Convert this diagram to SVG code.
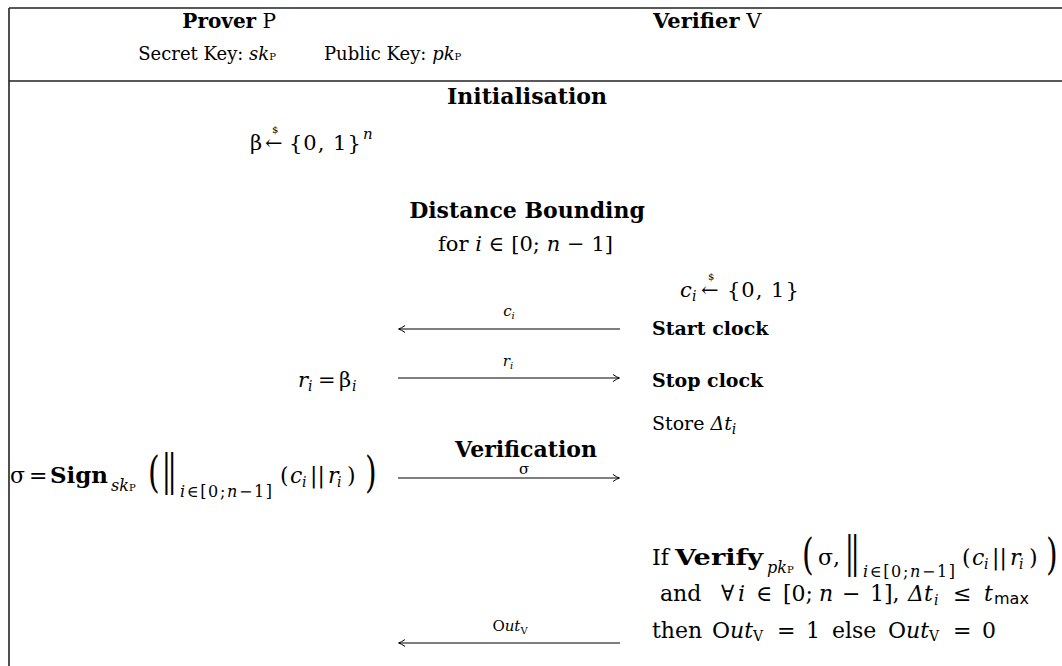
<svg xmlns="http://www.w3.org/2000/svg" width="1062" height="666" viewBox="0 0 1062 666">
<style>
text{font-family:"DejaVu Serif","Liberation Serif",serif;fill:#000;font-size:19px}
.b{font-weight:bold}
.it{font-style:italic}
.up{font-style:normal}
.m{font-size:21px}
.m2{font-size:22px}
.h{font-size:22px;font-weight:bold}
.sub{font-size:14px}
.s16{font-size:16px}
.ssub{font-size:10px}
.dollar{font-size:10px;font-style:normal}
.lab{font-size:15px}
.big{font-size:30px}
.bar{font-size:26px;letter-spacing:-3px}
.mid{text-anchor:middle}
.rule{stroke:#222;stroke-width:1.6;fill:none}
.arr{stroke:#000;stroke-width:1.1;fill:none}
.sans{font-family:"DejaVu Sans","Liberation Sans",sans-serif}
</style>
<defs>
<marker id="ah" viewBox="-8 -5 10 10" refX="0" refY="0" markerWidth="10" markerHeight="10" markerUnits="userSpaceOnUse" orient="auto">
<path d="M-6,-3.5 Q-2,-0.6 0.5,0 Q-2,0.6 -6,3.5" fill="none" stroke="#000" stroke-width="1"/>
</marker>
</defs>
<g id="frame">
<line class="rule" x1="9" y1="8" x2="1062" y2="8"/>
<line class="rule" x1="9" y1="81" x2="1062" y2="81"/>
<line class="rule" x1="9" y1="8" x2="9" y2="666"/>
</g>
<g id="prover-head">
<text x="276" y="28" text-anchor="end" style="font-size:20px"><tspan class="b">Prover</tspan> P</text>
<text x="276" y="60" text-anchor="end" style="font-size:18px">Secret Key: <tspan class="it">sk</tspan><tspan class="ssub">P</tspan></text>
</g>
<g id="verifier-head">
<text x="653" y="28" style="font-size:21px"><tspan class="b">Verifier</tspan> V</text>
<text x="324" y="60" style="font-size:18px">Public Key: <tspan class="it">pk</tspan><tspan class="ssub">P</tspan></text>
</g>
<g id="initialisation">
<text class="h mid" x="527" y="104">Initialisation</text>
</g>
<g id="beta-init">
<text class="m" y="150"><tspan x="250">β</tspan><tspan x="265">←</tspan><tspan class="dollar" x="272" dy="-17">$</tspan><tspan x="289" dy="17" style="letter-spacing:1px">{0, 1}</tspan><tspan class="it" x="363" dy="-11" style="font-size:15px">n</tspan></text>
</g>
<g id="distance-bounding">
<text class="h mid" x="527" y="218">Distance Bounding</text>
<text class="m" x="438" y="251" textLength="175" lengthAdjust="spacing">for <tspan class="it">i</tspan> ∈ [0; <tspan class="it">n</tspan> − 1]</text>
</g>
<g id="challenge">
<text class="m" y="297"><tspan class="it" x="680">c</tspan><tspan class="it sub" x="692" dy="4">i</tspan><tspan x="701" dy="-4">←</tspan><tspan class="dollar" x="708" dy="-17">$</tspan><tspan x="727" dy="17" style="letter-spacing:1px">{0, 1}</tspan></text>
</g>
<g id="start-clock"><text class="b" x="652" y="335">Start clock</text></g>
<g id="response">
<text class="m" y="387"><tspan class="it" x="298">r</tspan><tspan class="it sub" x="308" dy="4">i</tspan><tspan x="318" dy="-4">=</tspan><tspan x="339">β</tspan><tspan class="it sub" x="352" dy="4">i</tspan></text>
</g>
<g id="stop-clock"><text class="b" x="652" y="387">Stop clock</text></g>
<g id="store"><text x="652" y="430">Store <tspan class="it">Δt</tspan><tspan class="it sub" dy="4">i</tspan></text></g>
<g id="verification-head"><text class="h mid" x="526" y="457">Verification</text></g>
<g id="sign">
<text class="m2" x="10" y="483">σ</text>
<text class="m2" x="29" y="483">=</text>
<text class="b m2" x="50" y="483" textLength="58" lengthAdjust="spacingAndGlyphs">Sign</text>
<text x="111" y="491"><tspan class="it s16">sk</tspan><tspan class="ssub">P</tspan></text>
<text class="big" transform="translate(148,487) scale(1,1.4)">(</text>
<text class="bar" transform="translate(162,485) scale(1,1.65)">||</text>
<text class="it s16" x="180" y="497" textLength="92" lengthAdjust="spacing">i<tspan class="up">∈[0;</tspan>n<tspan class="up">−1]</tspan></text>
<text class="m2" y="483"><tspan x="280">(</tspan><tspan class="it" x="290">c</tspan><tspan class="sub it" x="302" dy="4">i</tspan><tspan x="310" dy="-4">||</tspan><tspan class="it" x="328">r</tspan><tspan class="sub it" x="337" dy="4">i</tspan><tspan x="347" dy="-4">)</tspan></text>
<text class="big" transform="translate(365,487) scale(1,1.4)">)</text>
</g>
<g id="verify">
<text class="m2" x="652" y="565">If</text>
<text class="b m2" x="675" y="565" textLength="88" lengthAdjust="spacingAndGlyphs">Verify</text>
<text x="767" y="573"><tspan class="it s16">pk</tspan><tspan class="ssub">P</tspan></text>
<text class="big" transform="translate(802,569) scale(1,1.4)">(</text>
<text class="m2" x="818" y="565">σ,</text>
<text class="bar" transform="translate(845,567) scale(1,1.65)">||</text>
<text class="it s16" x="863" y="577" textLength="92" lengthAdjust="spacing">i<tspan class="up">∈[0;</tspan>n<tspan class="up">−1]</tspan></text>
<text class="m2" y="565"><tspan x="962">(</tspan><tspan class="it" x="972">c</tspan><tspan class="sub it" x="984" dy="4">i</tspan><tspan x="992" dy="-4">||</tspan><tspan class="it" x="1010">r</tspan><tspan class="sub it" x="1019" dy="4">i</tspan><tspan x="1029" dy="-4">)</tspan></text>
<text class="big" transform="translate(1046,569) scale(1,1.4)">)</text>
</g>
<g id="verify-cond">
<text class="m2" y="601"><tspan x="660">and</tspan><tspan x="721">∀</tspan><tspan class="it" x="738">i</tspan><tspan x="756">∈</tspan><tspan x="783">[0;</tspan><tspan class="it" x="819">n</tspan><tspan x="842">−</tspan><tspan x="870">1],</tspan><tspan class="it" x="908">Δt</tspan><tspan class="sub it" x="934" dy="4">i</tspan><tspan x="953" dy="-4">≤</tspan><tspan class="it" x="984">t</tspan><tspan class="s16 sans" x="994" dy="3">max</tspan></text>
</g>
<g id="verify-out">
<text class="m2" y="638"><tspan x="652">then</tspan><tspan x="712">O</tspan><tspan class="it">ut</tspan><tspan class="sub" dy="3">V</tspan><tspan x="777" dy="-3">=</tspan><tspan x="806">1</tspan><tspan x="832">else</tspan><tspan x="888">O</tspan><tspan class="it">ut</tspan><tspan class="sub" dy="3">V</tspan><tspan x="953" dy="-3">=</tspan><tspan x="982">0</tspan></text>
</g>
<g id="connectors">
<line class="arr" x1="620" y1="329" x2="399" y2="329" marker-end="url(#ah)"/>
<text class="it lab mid" x="509" y="316">c<tspan class="ssub" dy="3">i</tspan></text>
<line class="arr" x1="398" y1="378" x2="619" y2="378" marker-end="url(#ah)"/>
<text class="it lab mid" x="508" y="366">r<tspan class="ssub" dy="3">i</tspan></text>
<line class="arr" x1="398" y1="478" x2="619" y2="478" marker-end="url(#ah)"/>
<text class="lab mid" x="524" y="474">σ</text>
<line class="arr" x1="620" y1="643" x2="399" y2="643" marker-end="url(#ah)"/>
<text class="lab mid" x="510" y="631">O<tspan class="it">ut</tspan><tspan class="ssub" dy="3">V</tspan></text>
</g>
</svg>
